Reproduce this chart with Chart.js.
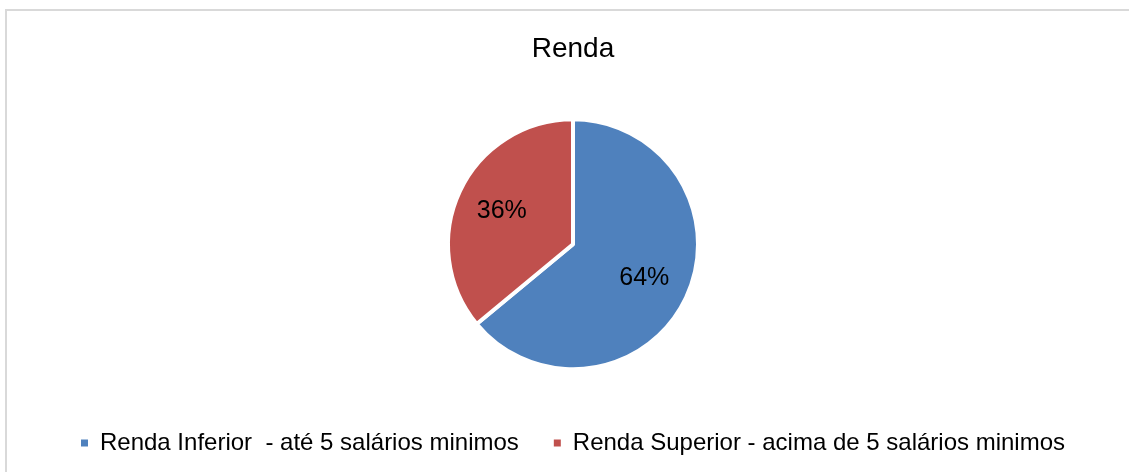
<!DOCTYPE html>
<html>
<head>
<meta charset="utf-8">
<script src="https://cdn.jsdelivr.net/npm/chart.js@4"></script>
<style>
  html, body { margin: 0; padding: 0; background: #fff; }
  #wrap { position: relative; width: 1129px; height: 472px; }
</style>
</head>
<body>
<div id="wrap"><canvas id="rendaChart" width="1129" height="472"></canvas></div>
<script>
Chart.defaults.font.family = "'Liberation Sans', Arial, sans-serif";
Chart.defaults.color = '#000';

const categories = ['Renda Inferior  - até 5 salários minimos', 'Renda Superior - acima de 5 salários minimos'];
const shares = [64, 36];
const sliceColors = ['#4F81BD', '#C0504D'];

// moldura cinza do gráfico
const frame = {
  id: 'frame',
  beforeDraw(chart) {
    const ctx = chart.ctx;
    ctx.save();
    ctx.strokeStyle = '#d9d9d9';
    ctx.lineWidth = 2;
    ctx.strokeRect(6, 10, 1200, 600);
    ctx.restore();
  }
};

// rótulos de porcentagem dentro das fatias
const pctLabels = {
  id: 'pctLabels',
  afterDatasetsDraw(chart) {
    const ctx = chart.ctx;
    const meta = chart.getDatasetMeta(0);
    ctx.save();
    ctx.font = "25px 'Liberation Sans', Arial, sans-serif";
    ctx.fillStyle = '#000';
    ctx.textAlign = 'center';
    ctx.textBaseline = 'middle';
    meta.data.forEach(function(arc, i) {
      const p = arc.getProps(['x', 'y', 'startAngle', 'endAngle', 'outerRadius'], true);
      const mid = (p.startAngle + p.endAngle) / 2;
      const r = p.outerRadius * 0.63;
      ctx.fillText(shares[i] + '%', p.x + Math.cos(mid) * r, p.y + Math.sin(mid) * r);
    });
    ctx.restore();
  }
};

const defaultLabels = Chart.overrides.pie.plugins.legend.labels.generateLabels;

new Chart(document.getElementById('rendaChart'), {
  type: 'pie',
  data: {
    labels: categories,
    datasets: [{
      data: shares,
      backgroundColor: sliceColors,
      borderColor: '#ffffff',
      borderWidth: 4,
      radius: 125
    }]
  },
  options: {
    responsive: false,
    animation: false,
    layout: {
      padding: { left: 17, right: 0, top: 0, bottom: 7 }
    },
    plugins: {
      title: {
        display: true,
        text: 'Renda',
        color: '#000',
        font: { size: 28, weight: 'normal' },
        padding: { top: 32, bottom: 27 }
      },
      legend: {
        position: 'bottom',
        labels: {
          usePointStyle: true,
          pointStyle: 'rect',
          pointStyleWidth: 7,
          boxHeight: 7,
          padding: 35,
          color: '#000',
          font: { size: 24 },
          generateLabels(chart) {
            return defaultLabels(chart).map(function(item) {
              item.lineWidth = 0;
              item.strokeStyle = item.fillStyle;
              return item;
            });
          }
        }
      },
      tooltip: { enabled: false }
    }
  },
  plugins: [frame, pctLabels]
});
</script>
</body>
</html>
